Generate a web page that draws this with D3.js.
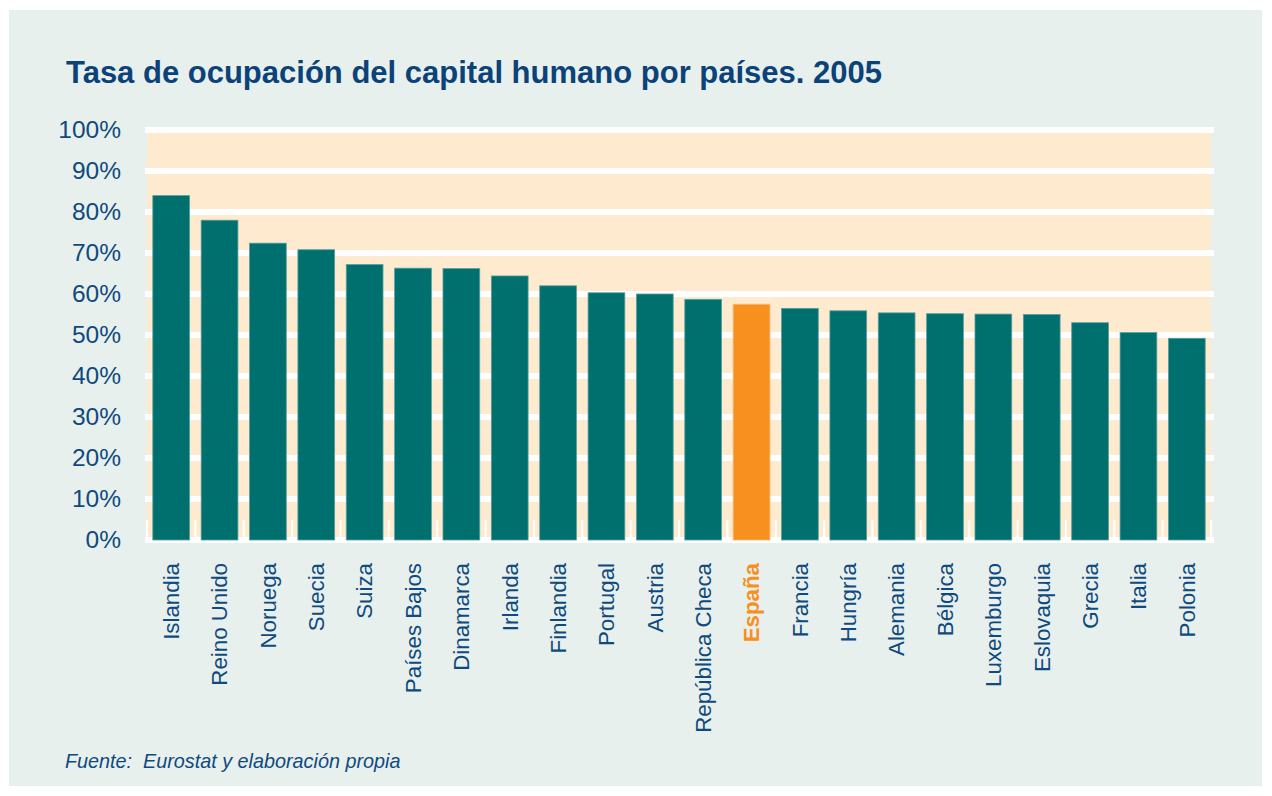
<!DOCTYPE html>
<html>
<head>
<meta charset="utf-8">
<script src="https://cdn.jsdelivr.net/npm/d3@7"></script>
<style>
  body { margin: 0; background: #fff; }
  text { font-family: "Liberation Sans", Arial, sans-serif; }
</style>
</head>
<body>
<div id="chart"></div>
<script>
// datos
const paises = ["Islandia", "Reino Unido", "Noruega", "Suecia", "Suiza", "Países Bajos",
  "Dinamarca", "Irlanda", "Finlandia", "Portugal", "Austria", "República Checa", "España",
  "Francia", "Hungría", "Alemania", "Bélgica", "Luxemburgo", "Eslovaquia", "Grecia",
  "Italia", "Polonia"]
const tasas = [84.0, 78.0, 72.4, 70.8, 67.2, 66.3, 66.2, 64.4, 62.0, 60.3, 60.0, 58.7, 57.5,
  56.5, 55.9, 55.4, 55.2, 55.1, 55.0, 53.0, 50.6, 49.2]
const ticksY = [0, 10, 20, 30, 40, 50, 60, 70, 80, 90, 100]
const destacado = "España"

const ancho = 1272
const alto = 796
const azul = "#0f4a7e"
const verde = "#00706f"
const naranja = "#f7901e"

const svg = d3.select("#chart").append("svg").attr("width", ancho).attr("height", alto)

// fondo
svg.append("rect").attr("x", 9).attr("y", 10).attr("width", 1253).attr("height", 776).attr("fill", "#e8f0ed")

const x = d3.scaleBand().domain(paises).range([147, 1211]).paddingInner(0.24).paddingOuter(0.12)
const y = d3.scaleLinear().domain([0, 100]).range([540, 130])

// area del grafico
svg.append("rect").attr("x", 147).attr("y", y(100)).attr("width", 1211 - 147)
  .attr("height", y(0) - y(100)).attr("fill", "#feebcf")

svg.append("g").selectAll("line").data(ticksY).join("line")
  .attr("x1", 145).attr("x2", 1214)
  .attr("y1", d => y(d)).attr("y2", d => y(d))
  .attr("stroke", "#fff").attr("stroke-width", 6)

// marcas entre categorias
const bordes = d3.range(paises.length + 1).map(i => 147 + i * x.step())
svg.append("g").selectAll("line").data(bordes).join("line")
  .attr("x1", d => d).attr("x2", d => d)
  .attr("y1", 520).attr("y2", 540)
  .attr("stroke", "#fff").attr("stroke-width", 2)

const datos = paises.map((p, i) => ({ pais: p, valor: tasas[i] }))

svg.append("g").selectAll("rect").data(datos).join("rect")
  .attr("x", d => x(d.pais))
  .attr("y", d => y(d.valor))
  .attr("width", x.bandwidth())
  .attr("height", d => y(0) - y(d.valor))
  .attr("fill", d => d.pais == destacado ? naranja : verde)
  .attr("stroke", d => d.pais == destacado ? "#fbb870" : "#5a9fa0")
  .attr("stroke-width", 0.8)

// ejes
const ejeY = svg.append("g").attr("transform", "translate(147,0)")
  .call(d3.axisLeft(y).tickValues(ticksY).tickSize(0).tickPadding(26).tickFormat(d => d + "%"))
ejeY.select(".domain").remove()
ejeY.selectAll("text").attr("fill", azul).style("font-size", "24.5px")
  .style("font-family", "'Liberation Sans', Arial, sans-serif")

const ejeX = svg.append("g").attr("transform", "translate(0,563)")
  .call(d3.axisBottom(x).tickSize(0).tickPadding(0))
ejeX.select(".domain").remove()
ejeX.selectAll("text")
  .attr("transform", "rotate(-90)")
  .attr("x", 0).attr("y", 0).attr("dy", "0.35em")
  .attr("text-anchor", "end")
  .attr("fill", d => d == destacado ? naranja : azul)
  .style("font-weight", d => d == destacado ? "bold" : "normal")
  .style("font-size", "22.3px")
  .style("font-family", "'Liberation Sans', Arial, sans-serif")

// titulo y fuente
svg.append("text").attr("x", 66).attr("y", 83)
  .attr("fill", "#0b4379").style("font-size", "31px").style("font-weight", "bold")
  .text("Tasa de ocupación del capital humano por países. 2005")

svg.append("text").attr("x", 65).attr("y", 768)
  .attr("fill", azul).style("font-size", "19.8px").style("font-style", "italic")
  .attr("xml:space", "preserve")
  .text("Fuente:  Eurostat y elaboración propia")
</script>
</body>
</html>
